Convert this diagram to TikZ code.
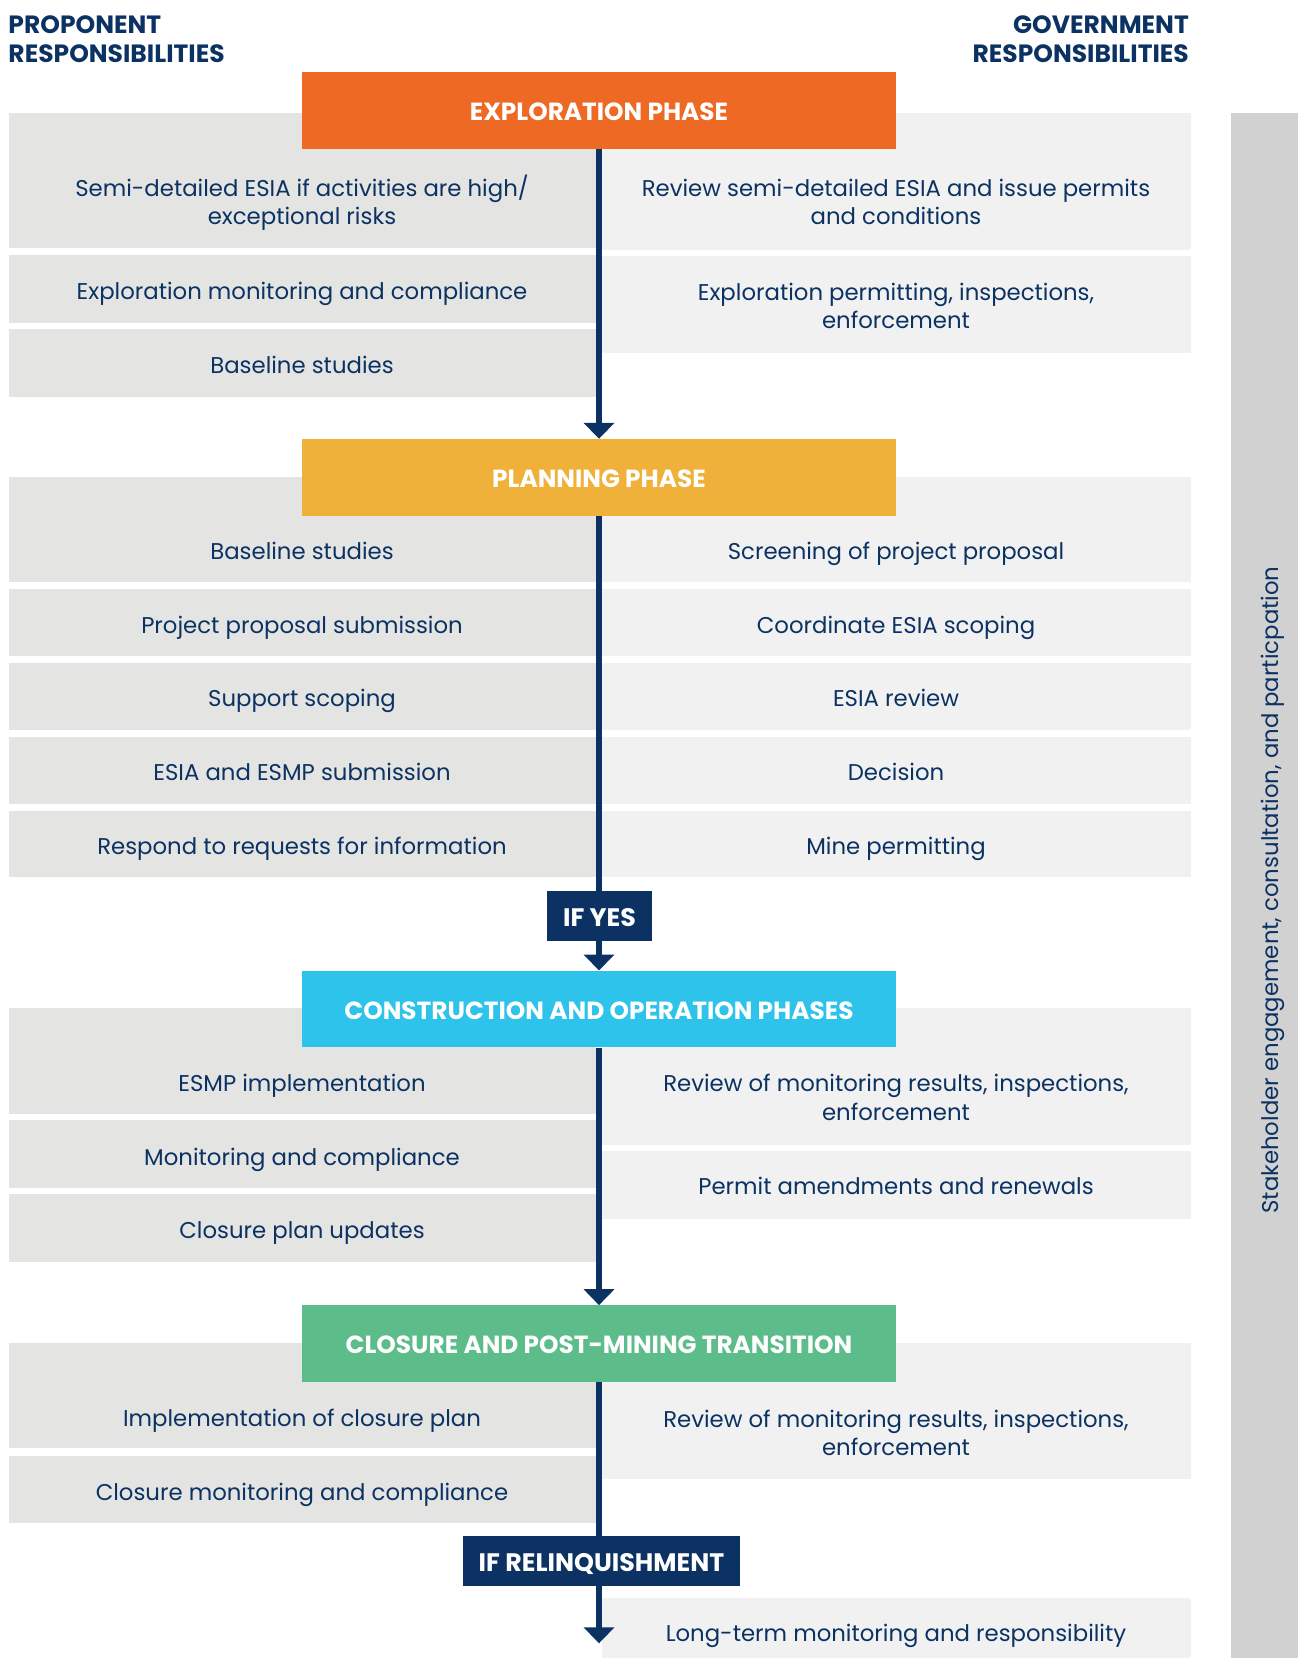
\documentclass[tikz,border=0pt]{standalone}
\usepackage{fontspec}
\setmainfont{Poppins}
\usetikzlibrary{arrows.meta}
\definecolor{navy}{HTML}{0B3262}
\definecolor{exporange}{HTML}{EE6A24}
\definecolor{planyellow}{HTML}{F0B13A}
\definecolor{conscyan}{HTML}{2DC3EB}
\definecolor{closgreen}{HTML}{5DBD8A}
\definecolor{lgray}{HTML}{E4E4E3}
\definecolor{rgray}{HTML}{F1F1F1}
\definecolor{sidegray}{HTML}{D0D1D0}
\newcommand\bodyfnt{\fontsize{22.8}{28.5}\selectfont}
\newcommand\hdrfnt{\fontsize{25}{30}\selectfont\bfseries}
\newcommand\phasefnt{\fontsize{24.8}{28}\selectfont\bfseries}
\newcommand\iffnt{\fontsize{25.3}{28}\selectfont\bfseries}
\tikzset{
  lrow/.style={fill=lgray},
  rrow/.style={fill=rgray},
  body/.style={text=navy, font=\bodyfnt, align=center, inner sep=0pt},
  bodyone/.style={body, text height=20pt, text depth=2.2pt},
  hdr/.style={text=navy, font=\hdrfnt, inner sep=0pt},
  phase/.style={text=white, font=\phasefnt, minimum width=594pt, minimum height=76.7pt, inner sep=0pt, text height=20.5pt, text depth=0pt},
  ifbox/.style={fill=navy, text=white, font=\iffnt, minimum height=49.7pt, inner sep=0pt, text height=21pt, text depth=0pt},
  flow/.style={draw=navy, line width=5.5pt, -{Triangle[width=30pt,length=16pt]}},
  flowline/.style={draw=navy, line width=5.5pt}
}
\begin{document}
\begin{tikzpicture}[x=1pt,y=-1pt]
\useasboundingbox (0,0) rectangle (1298,1658);
% headers
\node[hdr, anchor=base west] (hL1) at (8.3,33) {PROPONENT};
\node[hdr, anchor=base west] (hL2) at (8.3,62.5) {RESPONSIBILITIES};
\node[hdr, anchor=base east] (hR1) at (1189,33) {GOVERNMENT};
\node[hdr, anchor=base east] (hR2) at (1189,62.5) {RESPONSIBILITIES};
% side bar
\fill[sidegray] (1231,113) rectangle (1298,1658);
\node[body, rotate=90] (side) at (1272.5,890) {Stakeholder engagement, consultation, and particpation};
% exploration rows
\fill[lrow] (8.5,113) rectangle (596,247.7);
\fill[lrow] (8.5,255) rectangle (596,322.7);
\fill[lrow] (8.5,329) rectangle (596,396.7);
\fill[rrow] (601.7,113) rectangle (1191,250);
\fill[rrow] (601.7,256) rectangle (1191,352.7);
\node[body] (e1) at (302,202.5) {Semi-detailed ESIA if activities are high/\\exceptional risks};
\node[bodyone] (e2) at (302,290.7) {Exploration monitoring and compliance};
\node[bodyone] (e3) at (302,364.7) {Baseline studies};
\node[body] (g1) at (896,202) {Review semi-detailed ESIA and issue permits\\and conditions};
\node[body] (g2) at (896,306) {Exploration permitting, inspections,\\enforcement};
% planning rows
\foreach \ya/\yb in {476.7/582.4, 588.7/656.4, 662.7/730.4, 736.7/804.4, 810.7/877.3}{
  \fill[lrow] (8.5,\ya) rectangle (596,\yb);
  \fill[rrow] (601.7,\ya) rectangle (1191,\yb);
}
\node[bodyone] (p1) at (302,550.7) {Baseline studies};
\node[bodyone] (p2) at (302,624.7) {Project proposal submission};
\node[bodyone] (p3) at (302,697.6) {Support scoping};
\node[bodyone] (p4) at (302,771.6) {ESIA and ESMP submission};
\node[bodyone] (p5) at (302,845.6) {Respond to requests for information};
\node[bodyone] (q1) at (896,550.7) {Screening of project proposal};
\node[bodyone] (q2) at (896,624.7) {Coordinate ESIA scoping};
\node[bodyone] (q3) at (896,697.6) {ESIA review};
\node[bodyone] (q4) at (896,771.6) {Decision};
\node[bodyone] (q5) at (896,845.6) {Mine permitting};
% construction rows
\fill[lrow] (8.5,1008.4) rectangle (596,1114);
\fill[lrow] (8.5,1120.4) rectangle (596,1188);
\fill[lrow] (8.5,1194.4) rectangle (596,1262);
\fill[rrow] (601.7,1008.4) rectangle (1191,1144.7);
\fill[rrow] (601.7,1151) rectangle (1191,1218.7);
\node[bodyone] (c1) at (302,1082.4) {ESMP implementation};
\node[bodyone] (c2) at (302,1156.4) {Monitoring and compliance};
\node[bodyone] (c3) at (302,1229.3) {Closure plan updates};
\node[body] (d1) at (896,1097.5) {Review of monitoring results, inspections,\\enforcement};
\node[bodyone] (d2) at (896,1186) {Permit amendments and renewals};
% closure rows
\fill[lrow] (8.5,1343.4) rectangle (596,1448);
\fill[lrow] (8.5,1455.5) rectangle (596,1523);
\fill[rrow] (601.7,1343.4) rectangle (1191,1478.8);
\node[bodyone] (k1) at (302,1417.4) {Implementation of closure plan};
\node[bodyone] (k2) at (302,1491.4) {Closure monitoring and compliance};
\node[body] (m1) at (896,1433) {Review of monitoring results, inspections,\\enforcement};
% final row
\fill[rrow] (601.7,1598) rectangle (1191,1658);
\node[bodyone] (m2) at (896,1633) {Long-term monitoring and responsibility};
% phase boxes
\node[phase, fill=exporange] (exp) at (599,110.35) {EXPLORATION PHASE};
\node[phase, fill=planyellow] (plan) at (599,477.35) {PLANNING PHASE};
\node[phase, fill=conscyan] (cons) at (599,1009.05) {CONSTRUCTION AND OPERATION PHASES};
\node[phase, fill=closgreen] (clos) at (599,1343.7) {CLOSURE AND POST-MINING TRANSITION};
\node[ifbox, minimum width=105pt] (ifyes) at (599.5,916) {IF YES};
\node[ifbox, minimum width=277pt] (ifrel) at (601.5,1560.85) {IF RELINQUISHMENT};
\coordinate (endpt) at (599,1643.3);
% connectors
\draw[flow] (exp.south) -- (plan.north);
\draw[flowline] (plan.south) -- (plan.south |- ifyes.north);
\draw[flow] (plan.south |- ifyes.south) -- (cons.north);
\draw[flow] (cons.south) -- (clos.north);
\draw[flowline] (clos.south) -- (clos.south |- ifrel.north);
\draw[flow] (clos.south |- ifrel.south) -- (endpt);
\end{tikzpicture}
\end{document}
